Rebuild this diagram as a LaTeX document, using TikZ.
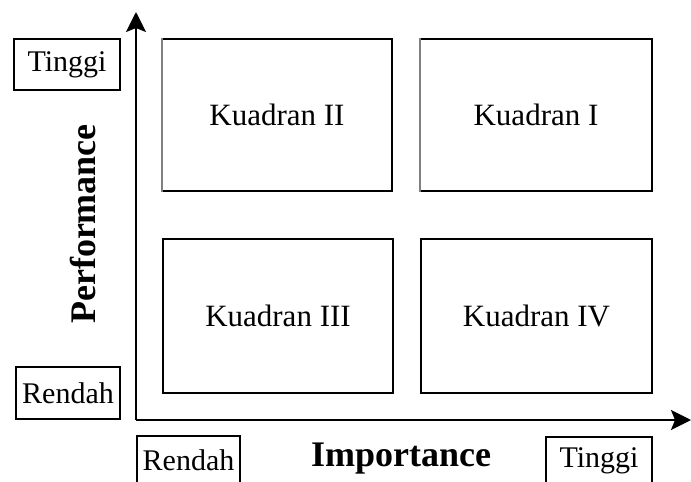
\documentclass[tikz,border=0pt]{standalone}
\usepackage{fontspec}
\setmainfont{Liberation Serif}
\usetikzlibrary{arrows.meta}
\begin{document}
\begin{tikzpicture}[x=1pt,y=-1pt,
  quad/.style={draw=black,line width=2pt,minimum width=230pt,minimum height=152pt,anchor=north west,inner sep=0pt,font=\fontsize{31}{36}\selectfont},
  lvl/.style={draw=black,line width=2pt,minimum width=104pt,anchor=north west,inner sep=0pt,font=\fontsize{30}{36}\selectfont},
  axislbl/.style={font=\bfseries\fontsize{36}{42}\selectfont,inner sep=0pt},
  axis/.style={line width=2pt,-{Stealth[length=20pt,width=20pt,inset=4pt]}}
]
\useasboundingbox (0,0) rectangle (691,482);
\clip (0,0) rectangle (691,482);
% quadrants
\node[quad] (q2) at (161,38) {Kuadran II};
\node[quad,minimum width=232pt] (q1) at (419,38) {Kuadran I};
\node[quad,minimum height=154pt] (q3) at (162,238) {Kuadran III};
\node[quad,minimum width=231pt,minimum height=154pt] (q4) at (420,238) {Kuadran IV};
% grey left edges of upper quadrants
\draw[gray,line width=2.6pt] ([xshift=0.8pt]q2.north west) -- ([xshift=0.8pt]q2.south west);
\draw[gray,line width=2.6pt] ([xshift=0.8pt]q1.north west) -- ([xshift=0.8pt]q1.south west);
% axes
\coordinate (O) at (136,420);
\coordinate (ytip) at (136,12);
\coordinate (xtip) at (691,420);
\draw[axis] (O) -- (ytip);
\draw[axis] (O) -- (xtip);
% level labels
\node[lvl,minimum height=51pt,minimum width=106pt] (yhi) at (13,38) {Tinggi};
\node[lvl,minimum height=52pt] (ylo) at (15,366) {Rendah};
\node[lvl,minimum height=48pt,minimum width=103pt] (xlo) at (136,435) {Rendah};
\node[lvl,minimum height=48pt,minimum width=106pt] (xhi) at (545,436) {Tinggi};
% axis titles
\node[axislbl,rotate=90] (perf) at (83,224) {Performance};
\node[axislbl] (imp) at (401,459) {Importance};
\end{tikzpicture}
\end{document}
